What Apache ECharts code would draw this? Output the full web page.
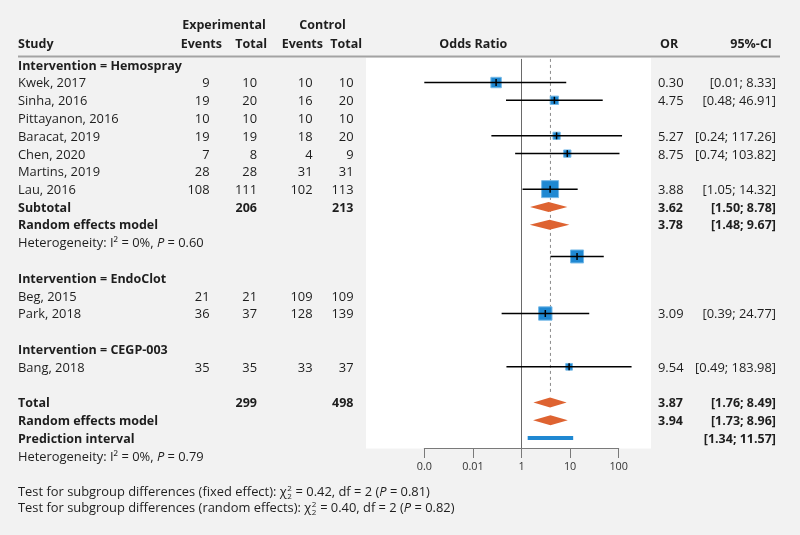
<!DOCTYPE html>
<html><head><meta charset="utf-8">
<script src="https://cdn.jsdelivr.net/npm/echarts@6/dist/echarts.min.js"></script>
<style>html,body{margin:0;padding:0;background:#f2f2f2}#c{width:800px;height:535px}</style>
</head><body><div id="c"></div>
<script>
// ---------------- DATA ----------------
const tickLabels = ['0.0', '0.01', '1', '10', '100'];

const groupLabels = ['Intervention = Hemospray', 'Intervention = EndoClot', 'Intervention = CEGP-003'];
const groupRows = [0, 12, 16];

const studies = ['Kwek, 2017', 'Sinha, 2016', 'Pittayanon, 2016', 'Baracat, 2019', 'Chen, 2020', 'Martins, 2019', 'Lau, 2016', 'Beg, 2015', 'Park, 2018', 'Bang, 2018'];
const studyRows = [1, 2, 3, 4, 5, 6, 7, 13, 14, 17];
const expEvents = [9, 19, 10, 19, 7, 28, 108, 21, 36, 35];
const expTotal = [10, 20, 10, 19, 8, 28, 111, 21, 37, 35];
const ctrlEvents = [10, 16, 10, 18, 4, 31, 102, 109, 128, 33];
const ctrlTotal = [10, 20, 10, 20, 9, 31, 113, 109, 139, 37];
const studyOR = [0.30, 4.75, null, 5.27, 8.75, null, 3.88, null, 3.09, 9.54];
const studyLow = [0.01, 0.48, null, 0.24, 0.74, null, 1.05, null, 0.39, 0.49];
const studyHigh = [8.33, 46.91, null, 117.26, 103.82, null, 14.32, null, 24.77, 183.98];
const studyWeight = [11, 7, null, 5.3, 5.3, null, 29, null, 18, 4.5];

// unlabeled point drawn between the Hemospray and EndoClot blocks
const extraRow = [10.72];
const extraOR = [13.9];
const extraLow = [3.94];
const extraHigh = [49.3];
const extraWeight = [17];

const summaryLabels = ['Subtotal', 'Random effects model', 'Total', 'Random effects model'];
const summaryRows = [8, 9, 19, 20];
const summaryExpTotal = ['206', '', '299', ''];
const summaryCtrlTotal = ['213', '', '498', ''];
const summaryOR = [3.62, 3.78, 3.87, 3.94];
const summaryLow = [1.50, 1.48, 1.76, 1.73];
const summaryHigh = [8.78, 9.67, 8.49, 8.96];

const predLabel = ['Prediction interval'];
const predRow = [21];
const predLow = [1.34];
const predHigh = [11.57];

const hetRows = [10, 22];
const hetI2 = ['0%', '0%'];
const hetP = ['0.60', '0.79'];

const nullEffect = 1;
const pooledEffect = 3.94;

const subgroupTests = [
  { label: 'Test for subgroup differences (fixed effect): ', chi: '0.42', df: '2', p: '0.81' },
  { label: 'Test for subgroup differences (random effects): ', chi: '0.40', df: '2', p: '0.82' }
];

// ---------------- STYLE ----------------
const FONT = '"Open Sans"';
const FS = 12.9;
const FSB = 12.5;
const TXT = '#1e1e1e';
const BLUE = '#1f88d2';
const BLUE_EDGE = '#76b9e7';
const ORANGE = '#de6331';
const COL = { study: 18, expEv: 209.5, expTot: 257, ctrlEv: 312.5, ctrlTot: 353.5, or: 658, ci: 776 };

function txt(x, y, text, align, bold, rich) {
  const st = {
    text: text, fill: TXT, fontSize: bold ? FSB : FS, fontFamily: FONT,
    fontWeight: bold ? 'bold' : 'normal', align: align, verticalAlign: 'middle'
  };
  if (rich) st.rich = rich;
  return { type: 'text', x: x, y: y, style: st };
}
const italicRich = { i: { fontStyle: 'italic', fontSize: FS, fontFamily: FONT, fill: TXT } };
const ciText = (l, h) => '[' + l.toFixed(2) + '; ' + h.toFixed(2) + ']';

function markStudy(api, row, or, lo, hi, w, children) {
  const y = api.coord([1, row])[1];
  const xl = api.coord([lo, row])[0];
  const xh = api.coord([hi, row])[0];
  const xc = api.coord([or, row])[0];
  const s = 3.15 * Math.sqrt(w);
  children.push({ type: 'rect', shape: { x: xc - s / 2, y: y - s / 2, width: s, height: s }, style: { fill: BLUE, stroke: BLUE_EDGE, lineWidth: 1 } });
  children.push({ type: 'line', shape: { x1: xl, y1: y, x2: xh, y2: y }, style: { stroke: '#000', lineWidth: 1.5 } });
  children.push({ type: 'line', shape: { x1: xc, y1: y - 3.5, x2: xc, y2: y + 3.5 }, style: { stroke: '#000', lineWidth: 1.5 } });
}

const chart = echarts.init(document.getElementById('c'), null, { renderer: 'canvas' });

// measure for chi-square scripts
const mctx = document.createElement('canvas').getContext('2d');
mctx.font = 'normal ' + FS + 'px ' + FONT;
const bottomGraphics = [];
subgroupTests.forEach((t, k) => {
  const y = 492.5 + k * 16;
  const pre = t.label + 'χ';
  const w = mctx.measureText(pre).width;
  bottomGraphics.push(txt(18, y, pre, 'left'));
  bottomGraphics.push({ type: 'text', x: 18 + w + 0.5, y: y - 4, style: { text: '2', fontSize: 8, fontFamily: FONT, fill: TXT, align: 'left', verticalAlign: 'middle' } });
  bottomGraphics.push({ type: 'text', x: 18 + w + 0.5, y: y + 4, style: { text: t.df, fontSize: 8, fontFamily: FONT, fill: TXT, align: 'left', verticalAlign: 'middle' } });
  bottomGraphics.push(txt(18 + w + 5.5, y, ' = ' + t.chi + ', df = ' + t.df + ' ({i|P} = ' + t.p + ')', 'left', false, italicRich));
});

const option = {
  backgroundColor: '#f2f2f2',
  animation: false,
  grid: { left: 424.3, width: 194.4, top: 66, height: 382 },
  xAxis: {
    type: 'log', logBase: 10, min: 0.01, max: 100, position: 'bottom',
    axisLine: { onZero: false, lineStyle: { color: '#7a7a7a', width: 1 } },
    axisTick: { length: 10, lineStyle: { color: '#7a7a7a', width: 1 } },
    axisLabel: {
      color: '#333', fontSize: 10.8, fontFamily: FONT, margin: 13,
      formatter: (v) => tickLabels[Math.round(Math.log10(v)) + 2]
    },
    splitLine: { show: false }, minorTick: { show: false }
  },
  yAxis: { type: 'value', inverse: true, min: 0, max: 21.5, show: false },
  graphic: [
    { type: 'rect', z: -10, shape: { x: 366, y: 58, width: 285, height: 390.5 }, style: { fill: '#ffffff' } },
    { type: 'line', shape: { x1: 18, y1: 56.5, x2: 780, y2: 56.5 }, style: { stroke: '#a3a3a3', lineWidth: 2 } },
    txt(224, 25, 'Experimental', 'center', true),
    txt(322.5, 25, 'Control', 'center', true),
    txt(18, 44, 'Study', 'left', true),
    txt(222, 44, 'Events', 'right', true),
    txt(267, 44, 'Total', 'right', true),
    txt(323, 44, 'Events', 'right', true),
    txt(362, 44, 'Total', 'right', true),
    txt(473.3, 44, 'Odds Ratio', 'center', true),
    txt(660, 44, 'OR', 'left', true),
    txt(772, 44, '95%-CI', 'right', true)
  ].concat(bottomGraphics),
  series: [
    { // reference lines
      type: 'custom', clip: false, z: 1,
      data: [[nullEffect, 0], [pooledEffect, 0]],
      renderItem: (params, api) => {
        const v = api.value(0);
        const x = api.coord([v, 0])[0];
        const yTop = api.coord([v, -0.4])[1];
        const dashed = params.dataIndex === 1;
        const yBot = api.coord([v, dashed ? 18.45 : 21.5])[1];
        return { type: 'line', shape: { x1: x, y1: yTop, x2: x, y2: yBot },
          style: dashed ? { stroke: '#8a8a8a', lineWidth: 1, lineDash: [3, 3] } : { stroke: '#6a6a6a', lineWidth: 1 } };
      }
    },
    { // group headers
      type: 'custom', clip: false,
      data: groupRows.map(r => [1, r]),
      renderItem: (params, api) => {
        const y = api.coord([1, groupRows[params.dataIndex]])[1];
        return txt(COL.study, y, groupLabels[params.dataIndex], 'left', true);
      }
    },
    { // studies
      type: 'custom', clip: false, z: 3,
      data: studyRows.map(r => [1, r]),
      renderItem: (params, api) => {
        const i = params.dataIndex;
        const r = studyRows[i];
        const y = api.coord([1, r])[1];
        const ch = [
          txt(COL.study, y, studies[i], 'left'),
          txt(COL.expEv, y, String(expEvents[i]), 'right'),
          txt(COL.expTot, y, String(expTotal[i]), 'right'),
          txt(COL.ctrlEv, y, String(ctrlEvents[i]), 'right'),
          txt(COL.ctrlTot, y, String(ctrlTotal[i]), 'right')
        ];
        if (studyOR[i] != null) {
          markStudy(api, r - 0.07, studyOR[i], studyLow[i], studyHigh[i], studyWeight[i], ch);
          ch.push(txt(COL.or, y, studyOR[i].toFixed(2), 'left'));
          ch.push(txt(COL.ci, y, ciText(studyLow[i], studyHigh[i]), 'right'));
        }
        return { type: 'group', children: ch };
      }
    },
    { // unlabeled point
      type: 'custom', clip: false, z: 3,
      data: extraRow.map((r, i) => [extraOR[i], r]),
      renderItem: (params, api) => {
        const i = params.dataIndex;
        const ch = [];
        markStudy(api, extraRow[i], extraOR[i], extraLow[i], extraHigh[i], extraWeight[i], ch);
        return { type: 'group', children: ch };
      }
    },
    { // summaries
      type: 'custom', clip: false, z: 3,
      data: summaryRows.map((r, i) => [summaryOR[i], r]),
      renderItem: (params, api) => {
        const i = params.dataIndex;
        const r = summaryRows[i];
        const y = api.coord([1, r])[1];
        const yd = y - 1.2;
        const xl = api.coord([summaryLow[i], r])[0];
        const xh = api.coord([summaryHigh[i], r])[0];
        const xc = api.coord([summaryOR[i], r])[0];
        return { type: 'group', children: [
          { type: 'polygon', shape: { points: [[xl, yd], [xc, yd - 5], [xh, yd], [xc, yd + 5]] }, style: { fill: ORANGE } },
          txt(COL.study, y, summaryLabels[i], 'left', true),
          txt(COL.expTot, y, summaryExpTotal[i], 'right', true),
          txt(COL.ctrlTot, y, summaryCtrlTotal[i], 'right', true),
          txt(COL.or, y, summaryOR[i].toFixed(2), 'left', true),
          txt(COL.ci, y, ciText(summaryLow[i], summaryHigh[i]), 'right', true)
        ] };
      }
    },
    { // prediction interval
      type: 'custom', clip: false, z: 3,
      data: predRow.map(r => [1, r]),
      renderItem: (params, api) => {
        const i = params.dataIndex;
        const r = predRow[i];
        const y = api.coord([1, r])[1];
        const xl = api.coord([predLow[i], r])[0];
        const xh = api.coord([predHigh[i], r])[0];
        return { type: 'group', children: [
          { type: 'rect', shape: { x: xl, y: y - 3.2, width: xh - xl, height: 4 }, style: { fill: BLUE } },
          txt(COL.study, y, predLabel[i], 'left', true),
          txt(COL.ci, y, ciText(predLow[i], predHigh[i]), 'right', true)
        ] };
      }
    },
    { // heterogeneity
      type: 'custom', clip: false,
      data: hetRows.map(r => [1, r]),
      renderItem: (params, api) => {
        const i = params.dataIndex;
        const y = api.coord([1, hetRows[i]])[1];
        return txt(COL.study, y, 'Heterogeneity: I² = ' + hetI2[i] + ', {i|P} = ' + hetP[i], 'left', false, italicRich);
      }
    }
  ]
};
chart.setOption(option);
</script></body></html>
